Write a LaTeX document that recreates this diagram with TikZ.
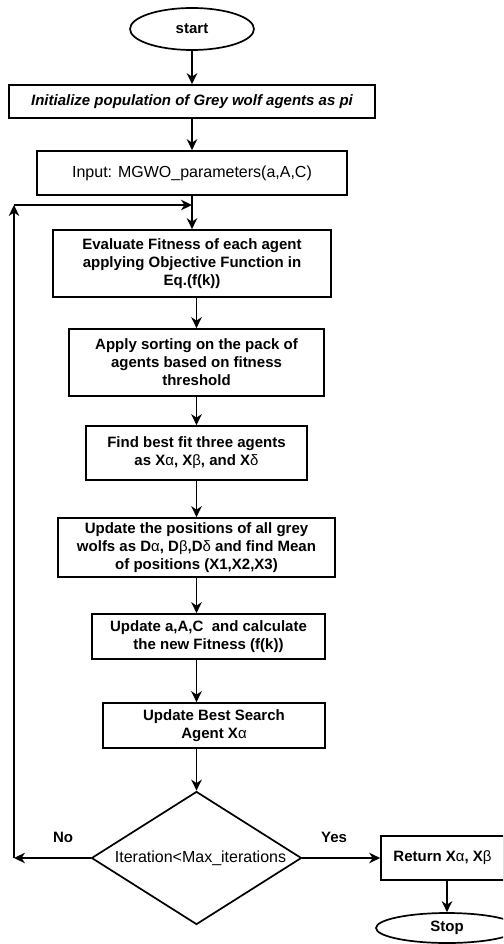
\documentclass[tikz,border=0pt]{standalone}
\usepackage{fontspec}
\setmainfont{Liberation Sans}
\usetikzlibrary{shapes.geometric,arrows.meta}
\tikzset{
  box/.style={draw, line width=1.7pt, rectangle, inner sep=0pt, align=center, font=\fontsize{15}{18}\selectfont\bfseries},
  oval/.style={draw, line width=1.7pt, ellipse, inner sep=0pt, font=\fontsize{15}{18}\selectfont\bfseries},
  arr/.style={line width=1.7pt, -{Stealth[length=11pt,width=10.5pt,inset=3.5pt]}},
  lbl/.style={font=\fontsize{15}{18}\selectfont\bfseries}
}
\newcommand{\gr}[1]{{\mdseries #1}}
\begin{document}
\begin{tikzpicture}[x=1pt,y=-1pt]
\path[use as bounding box] (0,0) rectangle (503,944);
\clip (0,0) rectangle (503,944);
\node[oval, minimum width=124pt, minimum height=42pt] (start) at (192,29) {start};
\node[box, minimum width=366pt, minimum height=33pt, font=\fontsize{15}{18}\selectfont\bfseries\itshape] (init) at (192,101.5) {Initialize population of Grey wolf agents as pi};
\node[box, minimum width=310pt, minimum height=44pt, font=\fontsize{16}{18}\selectfont] (input) at (192,173) {Input: MGWO\_parameters(a,A,C)};
\node[box, minimum width=278pt, minimum height=67pt] (eval) at (192,263.5) {Evaluate Fitness of each agent\\applying Objective Function in\\Eq.(f(k))};
\node[box, minimum width=255pt, minimum height=67pt] (sort) at (196.5,362.5) {Apply sorting on the pack of\\agents based on fitness\\threshold};
\node[box, minimum width=221pt, minimum height=54pt] (find) at (196.5,453) {Find best fit three agents\\as X\gr{α}, X\gr{β}, and X\gr{δ}};
\node[box, minimum width=277pt, minimum height=59pt] (pos) at (196.5,547.5) {Update the positions of all grey\\wolfs as D\gr{α}, D\gr{β},D\gr{δ} and find Mean\\of positions (X1,X2,X3)};
\node[box, minimum width=233pt, minimum height=45pt] (upd) at (208.5,636.5) {Update a,A,C\ \ and calculate\\the new Fitness (f(k))};
\node[box, minimum width=222pt, minimum height=45pt] (best) at (214,725.5) {Update Best Search\\Agent X\gr{α}};
\node[draw, line width=1.7pt, diamond, minimum width=210pt, minimum height=133pt, inner sep=0pt, font=\fontsize{16}{18}\selectfont] (dia) at (196.5,858) {\makebox[0pt]{\hspace{8pt}Iteration<Max\_iterations}};
\node[box, minimum width=123pt, minimum height=44pt] (ret) at (442.5,858) {Return X\gr{α}, X\gr{β}};
\node[oval, minimum width=142pt, minimum height=30pt] (stop) at (447,928) {Stop};
\node[lbl] (no) at (63,837) {No};
\node[lbl] (yes) at (334,837) {Yes};
\coordinate (j) at (192,205);
\coordinate (l1) at (14,858);
\coordinate (l2) at (14,205);
\draw[arr] (start) -- (init);
\draw[arr] (init) -- (input);
\draw[arr] (input) -- (j) -- (eval);
\draw[arr] (eval.south -| sort.north) -- (sort.north);
\draw[arr] (sort) -- (find);
\draw[arr] (find) -- (pos);
\draw[arr] (pos.south) -- (pos.south |- upd.north);
\draw[arr] (pos.south |- upd.south) -- (pos.south |- best.north);
\draw[arr] (pos.south |- best.south) -- (dia.north);
\draw[arr] (dia.west) -- (l1);
\draw[arr] (l1) -- (l2);
\draw[arr] (l2) -- (j);
\draw[arr] (dia.east) -- (ret.west);
\draw[arr] (stop.north |- ret.south) -- (stop.north);
\end{tikzpicture}
\end{document}
